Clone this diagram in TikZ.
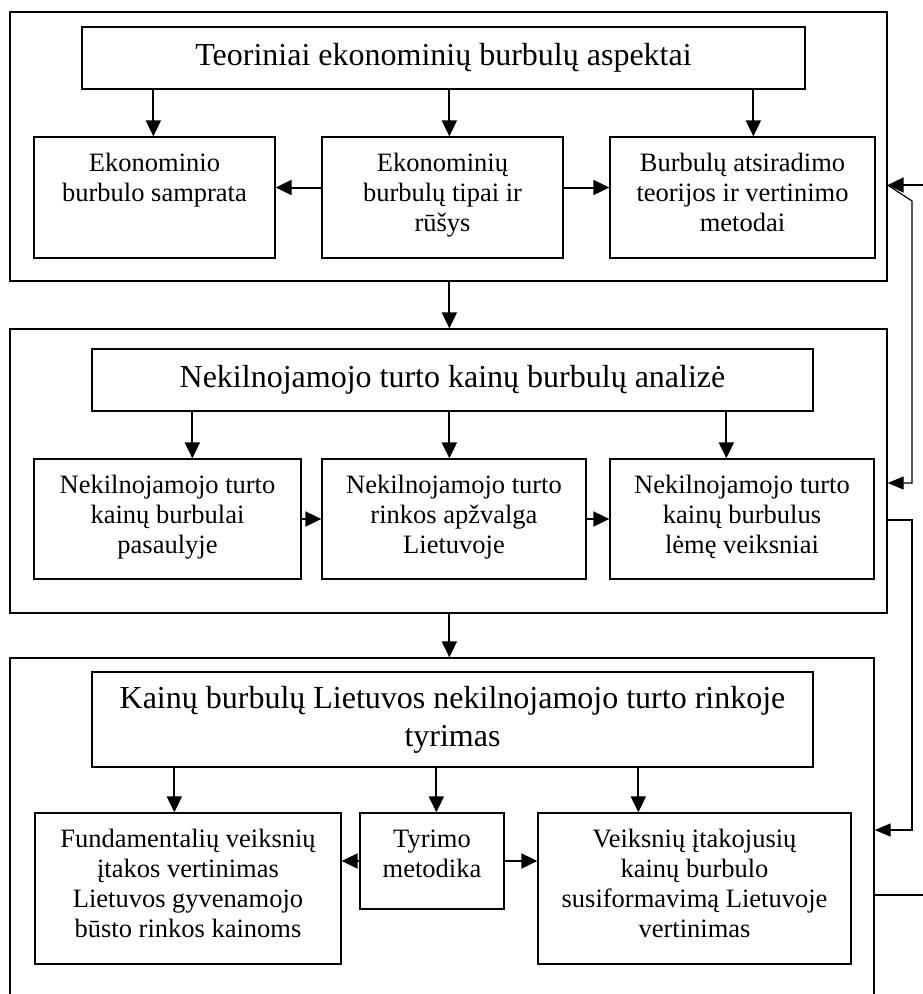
\documentclass[tikz,border=0pt]{standalone}
\usepackage{fontspec}
\setmainfont{Liberation Serif}
\usetikzlibrary{arrows.meta,fit}
\begin{document}
\begin{tikzpicture}[x=1pt,y=-1pt,
  frame/.style={draw,line width=1.3pt,inner sep=0pt},
  box/.style={draw,line width=1.3pt,inner sep=0pt},
  ttl/.style={font=\fontsize{32}{38}\selectfont,align=center,inner sep=0pt},
  txt/.style={font=\fontsize{26.5}{30}\selectfont,align=center,inner sep=0pt,anchor=north},
  arr/.style={line width=2pt,-{Triangle[length=16pt,width=15pt]}},
  arrthin/.style={line width=1.2pt,-{Triangle[length=16pt,width=13pt]}},
  linethin/.style={line width=1.2pt}]
\useasboundingbox (0,0) rectangle (923,994);
\clip (0,0) rectangle (923,994);

% frames
\node[frame,fit={(10,12) (887,281)}] (f1) {};
\node[frame,fit={(10,329) (887,613)}] (f2) {};
\node[frame,fit={(10,658) (874,1010)}] (f3) {};

% section 1
\node[box,fit={(82,27) (805,89)}] (t1) {};
\node[ttl] (t1t) at (t1.center) {Teoriniai ekonominių burbulų aspektai};
\node[box,fit={(34,137) (275,258)}] (a) {};
\node[box,fit={(322,137) (563,258)}] (b) {};
\node[box,fit={(610,137) (875,258)}] (c) {};
\node[txt] (at) at ([yshift=-14pt]a.north) {\strut Ekonominio\\burbulo samprata};
\node[txt] (bt) at ([yshift=-14pt]b.north) {\strut Ekonominių\\burbulų tipai ir\\rūšys};
\node[txt] (ct) at ([yshift=-14pt]c.north) {\strut Burbulų atsiradimo\\teorijos ir vertinimo\\metodai};

% section 2
\node[box,fit={(92,349) (813,411)}] (t2) {};
\node[ttl] (t2t) at (t2.center) {Nekilnojamojo turto kainų burbulų analizė};
\node[box,fit={(34,459) (301,579)}] (d) {};
\node[box,fit={(322,459) (586,579)}] (e) {};
\node[box,fit={(610,459) (874,579)}] (f) {};
\node[txt] (dt) at ([yshift=-14pt]d.north) {\strut Nekilnojamojo turto\\kainų burbulai\\pasaulyje};
\node[txt] (et) at ([yshift=-14pt]e.north) {\strut Nekilnojamojo turto\\rinkos apžvalga\\Lietuvoje};
\node[txt] (ft) at ([yshift=-14pt]f.north) {\strut Nekilnojamojo turto\\kainų burbulus\\lėmę veiksniai};

% section 3
\node[box,fit={(92,672) (813,767)}] (t3) {};
\node[ttl] (t3t) at (t3.center) {Kainų burbulų Lietuvos nekilnojamojo turto rinkoje\\tyrimas};
\node[box,fit={(35,813) (341,964)}] (g) {};
\node[box,fit={(360,813) (504,909)}] (h) {};
\node[box,fit={(538,813) (851,964)}] (i) {};
\node[txt] (gt) at ([yshift=-14pt]g.north) {\strut Fundamentalių veiksnių\\įtakos vertinimas\\Lietuvos gyvenamojo\\būsto rinkos kainoms};
\node[txt] (ht) at ([yshift=-14pt]h.north) {\strut Tyrimo\\metodika};
\node[txt] (it) at ([yshift=-14pt]i.north) {\strut Veiksnių įtakojusių\\kainų burbulo\\susiformavimą Lietuvoje\\vertinimas};

% vertical arrows, section 1
\draw[arr] ([xshift=120pt]a.north west |- t1.south) -- ([xshift=120pt]a.north west);
\draw[arr] ([xshift=128pt]b.north west |- t1.south) -- ([xshift=128pt]b.north west);
\draw[arr] ([xshift=144pt]c.north west |- t1.south) -- ([xshift=144pt]c.north west);
% horizontal arrows, section 1
\draw[arr] ([yshift=10pt]b.west) -- ([yshift=10pt]b.west -| a.east);
\draw[arr] ([yshift=10pt]b.east) -- ([yshift=10pt]b.east -| c.west);

% frame 1 -> frame 2
\draw[arr] ([xshift=440pt]f1.south west) -- ([xshift=440pt]f1.south west |- f2.north);

% section 2
\draw[arr] ([xshift=159pt]d.north west |- t2.south) -- ([xshift=159pt]d.north west);
\draw[arr] ([xshift=128pt]e.north west |- t2.south) -- ([xshift=128pt]e.north west);
\draw[arr] ([xshift=117pt]f.north west |- t2.south) -- ([xshift=117pt]f.north west);
\draw[arr] (d.east) -- (d.east -| e.west);
\draw[arr] (e.east) -- (e.east -| f.west);

% frame 2 -> frame 3
\draw[arr] ([xshift=440pt]f2.south west) -- ([xshift=440pt]f2.south west |- f3.north);

% section 3
\draw[arr] ([xshift=140pt]g.north west |- t3.south) -- ([xshift=140pt]g.north west);
\draw[arr] ([xshift=77pt]h.north west |- t3.south) -- ([xshift=77pt]h.north west);
\draw[arr] ([xshift=101pt]i.north west |- t3.south) -- ([xshift=101pt]i.north west);
\draw[arr] (h.west) -- (h.west -| g.east);
\draw[arr] (h.east) -- (h.east -| i.west);

% right-hand connectors
\coordinate (inR) at (923,185);
\coordinate (r1) at (912,201);
\coordinate (r2) at (912,483);
\coordinate (r3) at (912,520);
\coordinate (r4) at (912,830);
\coordinate (outR) at (923,895);
\draw[arr] (inR) -- (inR -| f1.east);
\draw[arrthin] (inR -| f1.east) -- (r1) -- (r2) -- (r2 -| f2.east);
\draw[arrthin] (r3 -| f2.east) -- (r3) -- (r4) -- (r4 -| f3.east);
\draw[linethin] (outR -| f3.east) -- (outR);
\end{tikzpicture}
\end{document}
